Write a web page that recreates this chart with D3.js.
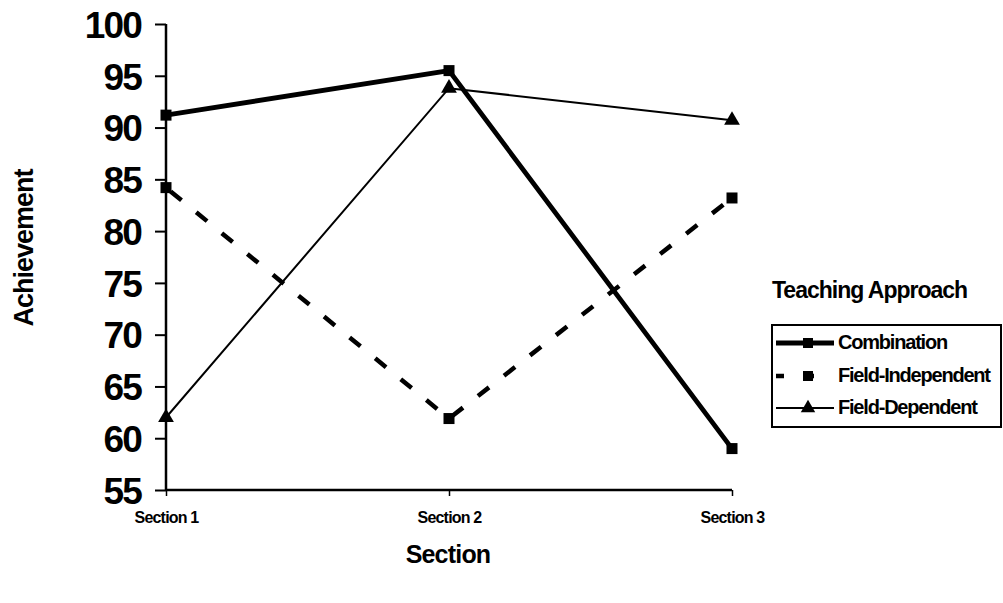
<!DOCTYPE html>
<html><head><meta charset="utf-8">
<script src="https://cdn.jsdelivr.net/npm/d3@7"></script>
<style>body{margin:0;background:#fff}svg{display:block}text{font-family:Arial,"Liberation Sans",sans-serif;fill:#000}</style>
</head><body>
<svg id="c" width="1003" height="603"></svg>
<script>
const categories = ["Section 1","Section 2","Section 3"];
const seriesNames = ["Combination","Field-Independent","Field-Dependent"];
const combination = [91.2, 95.5, 59.0];
const fieldIndependent = [84.2, 61.9, 83.2];
const fieldDependent = [62.0, 93.8, 90.7];
const yTicks = [55,60,65,70,75,80,85,90,95,100];
const yTitle = "Achievement";
const xTitle = "Section";
const legendTitle = "Teaching Approach";

const svg = d3.select("#c");
const x = d3.scalePoint().domain(categories).range([166, 732]);
const y = d3.scaleLinear().domain([55,100]).range([490, 24]);

const styles = [
  {w:4.8, dash:null, marker:"square"},
  {w:4.5, dash:"14,19", marker:"square"},
  {w:2, dash:null, marker:"triangle"}
];
const data = [combination, fieldIndependent, fieldDependent];

// axes
const yAxis = svg.append("g").attr("transform","translate(166,0)")
  .call(d3.axisLeft(y).tickValues(yTicks).tickSize(11).tickPadding(14).tickFormat(d3.format("d")));
yAxis.select(".domain").attr("stroke","#000").attr("stroke-width",2.5).attr("d","M0,24H0V490");
yAxis.selectAll(".tick line").attr("stroke","#000").attr("stroke-width",2);
yAxis.selectAll(".tick text").attr("font-size",37).attr("font-weight","bold").attr("letter-spacing","-1.8px").attr("dy","0.36em");

const xAxis = svg.append("g").attr("transform","translate(0,490)")
  .call(d3.axisBottom(x).tickSize(6).tickPadding(16));
xAxis.select(".domain").attr("stroke","#000").attr("stroke-width",2.5).attr("d","M166,0H732");
xAxis.selectAll(".tick line").attr("stroke","#000").attr("stroke-width",1.5);
xAxis.selectAll(".tick text").attr("font-size",16).attr("font-weight","bold").attr("letter-spacing","-0.8px");

svg.append("text").attr("transform","translate(33,248) rotate(-90)").attr("text-anchor","middle")
  .attr("font-size",27).attr("font-weight","bold").attr("letter-spacing","-1px").text(yTitle);
svg.append("text").attr("x",448).attr("y",563).attr("text-anchor","middle")
  .attr("font-size",25).attr("font-weight","bold").attr("letter-spacing","-0.8px").text(xTitle);

// lines
const line = d3.line().x((d,i)=>x(categories[i])).y(d=>y(d));
function drawMarker(g, type, cx, cy, s){
  if(type==="square"){
    g.append("rect").attr("x",cx-s/2).attr("y",cy-s/2).attr("width",s).attr("height",s).attr("fill","#000");
  } else {
    g.append("path").attr("d",d3.symbol().type(d3.symbolTriangle).size(s*s*0.75)()).attr("transform",`translate(${cx},${cy})`).attr("fill","#000");
  }
}
data.forEach((vals, k)=>{
  const st = styles[k];
  const p = svg.append("path").datum(vals).attr("d",line).attr("fill","none").attr("stroke","#000")
    .attr("stroke-width",st.w);
  if(st.dash) p.attr("stroke-dasharray",st.dash).attr("stroke-dashoffset",-6);
  const g = svg.append("g");
  vals.forEach((v,i)=>drawMarker(g, st.marker, x(categories[i]), y(v), st.marker==="square"?11:12));
});

// legend
svg.append("text").attr("x",772).attr("y",298).attr("font-size",23).attr("font-weight","bold")
  .attr("letter-spacing","-1px").text(legendTitle);
svg.append("rect").attr("x",772).attr("y",325).attr("width",229).attr("height",102)
  .attr("fill","none").attr("stroke","#000").attr("stroke-width",2);
const ly = [343, 376, 408];
seriesNames.forEach((n,k)=>{
  const st = styles[k];
  const g = svg.append("g");
  const l = g.append("line").attr("x1",776).attr("x2",834).attr("y1",ly[k]).attr("y2",ly[k]).attr("stroke","#000").attr("stroke-width",st.w);
  if(st.dash) l.attr("stroke-dasharray","8,22").attr("stroke-dashoffset",0);
  drawMarker(g, st.marker, 808, ly[k], st.marker==="square"?10:11);
  g.append("text").attr("x",838).attr("y",ly[k]+6).attr("font-size",20).attr("font-weight","bold")
    .attr("letter-spacing","-1.2px").text(n);
});
</script>
</body></html>
